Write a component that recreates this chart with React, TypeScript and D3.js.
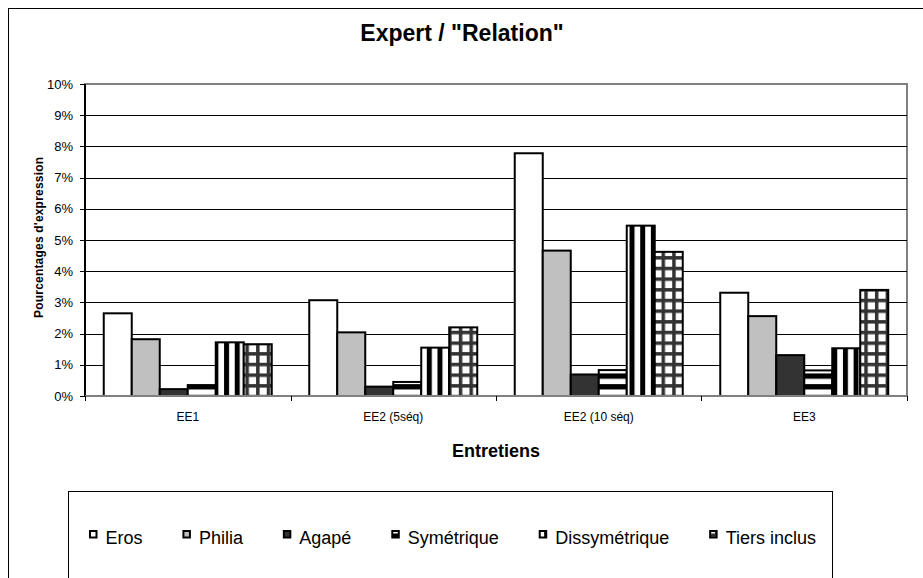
import React, { useMemo } from "react";
import * as d3 from "d3";

const categories = ["EE1", "EE2 (5séq)", "EE2 (10 séq)", "EE3"];
const seriesNames = ["Eros", "Philia", "Agapé", "Symétrique", "Dissymétrique", "Tiers inclus"];
const erosValues = [2.65, 3.07, 7.78, 3.31];
const philiaValues = [1.82, 2.04, 4.66, 2.56];
const agapeValues = [0.22, 0.3, 0.69, 1.31];
const symetriqueValues = [0.35, 0.45, 0.83, 0.82];
const dissymetriqueValues = [1.72, 1.55, 5.46, 1.53];
const tiersValues = [1.66, 2.2, 4.62, 3.4];
const yTicks = [0, 1, 2, 3, 4, 5, 6, 7, 8, 9, 10];

const seriesValues = [erosValues, philiaValues, agapeValues, symetriqueValues, dissymetriqueValues, tiersValues];
const fills = ["#ffffff", "#c0c0c0", "#333333", "url(#pHoriz)", "url(#pVert)", "url(#pGrid)"];

const FONT = "'Liberation Sans', Arial, sans-serif";

export default function App() {
  const W = 923, H = 578;
  const left = 85, right = 907, top = 84, bottom = 396;

  const x0 = d3.scaleBand<string>().domain(categories).range([left, right]).paddingInner(0.1825).paddingOuter(0.09125);
  const x1 = d3.scaleBand<string>().domain(seriesNames).range([0, x0.bandwidth()]).padding(0);
  const y = d3.scaleLinear().domain([0, 10]).range([bottom, top]);

  const legendItems = useMemo(() => {
    const c = document.createElement("canvas").getContext("2d");
    const fs = 18;
    let widths = seriesNames.map((n) => n.length * 9);
    if (c) {
      c.font = `${fs}px 'Liberation Sans', Arial`;
      widths = seriesNames.map((n) => c.measureText(n).width);
    }
    const sqToText = 16.5;
    const startX = 89, endX = 816;
    const total = widths.reduce((a, b) => a + b + sqToText, 0);
    const gap = (endX - startX - total) / (seriesNames.length - 1);
    let cx = startX;
    return seriesNames.map((n, i) => {
      const item = { name: n, x: cx, tx: cx + sqToText, fill: fills[i] };
      cx += sqToText + widths[i] + gap;
      return item;
    });
  }, []);

  return (
    <svg width={W} height={H} style={{ position: "absolute", left: 0, top: 0, background: "#fff" }} fontFamily={FONT}>
      <defs>
        <pattern id="pHoriz" patternUnits="userSpaceOnUse" width="10.67" height="10.67">
          <rect width="10.67" height="10.67" fill="#fff" />
          <rect width="10.67" height="5.33" fill="#000" />
        </pattern>
        <pattern id="pVert" patternUnits="userSpaceOnUse" width="10.67" height="10.67">
          <rect width="10.67" height="10.67" fill="#fff" />
          <rect width="5" height="10.67" fill="#000" />
        </pattern>
        <pattern id="pGrid" patternUnits="userSpaceOnUse" width="10.67" height="10.67">
          <rect width="10.67" height="10.67" fill="#fff" />
          <rect width="3.5" height="10.67" fill="#333" />
          <rect width="10.67" height="3.5" fill="#333" />
        </pattern>
        <clipPath id="yTitleClip">
          <rect x="0" y="156" width="80" height="260" />
        </clipPath>
      </defs>

      {/* outer frame */}
      <rect x={8.5} y={8.5} width={W} height={H} fill="none" stroke="#000" strokeWidth={1} />

      {/* title */}
      <text x={462} y={41} textAnchor="middle" fontSize={23} fontWeight="bold" fill="#000">
        Expert / "Relation"
      </text>

      {/* plot area frame */}
      <rect x={left} y={top} width={right - left} height={bottom - top} fill="#fff" stroke="#808080" strokeWidth={2} />

      {/* gridlines */}
      {yTicks.slice(1, -1).map((t) => (
        <line key={t} x1={left} x2={right} y1={Math.round(y(t)) + 0.5} y2={Math.round(y(t)) + 0.5} stroke="#000" strokeWidth={1} />
      ))}

      {/* y ticks and labels */}
      {yTicks.map((t) => (
        <g key={t}>
          <line x1={80} x2={left} y1={Math.round(y(t)) + 0.5} y2={Math.round(y(t)) + 0.5} stroke="#000" />
          <text x={73} y={y(t) + 4.5} textAnchor="end" fontSize={13} fill="#000">
            {t}%
          </text>
        </g>
      ))}

      {/* bars */}
      {categories.map((cat, ci) => (
        <g key={cat}>
          {seriesNames.map((s, si) => {
            const v = seriesValues[si][ci];
            const bx = (x0(cat) as number) + (x1(s) as number);
            return (
              <rect
                key={s}
                x={bx}
                y={y(v)}
                width={x1.bandwidth()}
                height={bottom - y(v)}
                fill={fills[si]}
                stroke="#000"
                strokeWidth={2}
              />
            );
          })}
        </g>
      ))}

      {/* axes lines */}
      <line x1={left} x2={left} y1={top} y2={bottom} stroke="#000" strokeWidth={2} />
      <line x1={left} x2={right} y1={bottom} y2={bottom} stroke="#808080" strokeWidth={2} />
      {[...categories.map((c) => x0(c) as number - x0.step() * 0.09125), right].map((tx, i) => (
        <line key={i} x1={Math.round(tx) + 0.5} x2={Math.round(tx) + 0.5} y1={bottom} y2={bottom + 5} stroke="#000" />
      ))}

      {/* x labels */}
      {categories.map((c) => (
        <text key={c} x={(x0(c) as number) + x0.bandwidth() / 2} y={421} textAnchor="middle" fontSize={12} fill="#000">
          {c}
        </text>
      ))}
      <text x={(left + right) / 2} y={457} textAnchor="middle" fontSize={18} fontWeight="bold" fill="#000">
        Entretiens
      </text>

      {/* y title */}
      <g clipPath="url(#yTitleClip)">
        <text transform="translate(43,318) rotate(-90)" textAnchor="start" fontSize={12} fontWeight="bold" letterSpacing={0.2} fill="#000">
          Pourcentages d'expressions
        </text>
      </g>

      {/* legend */}
      <rect x={68.5} y={491.5} width={832 - 68} height={200} fill="#fff" stroke="#000" strokeWidth={1} />
      {legendItems.map((it) => (
        <g key={it.name}>
          <rect x={it.x + 1} y={531} width={6.5} height={6.5} fill={it.fill} stroke="#000" strokeWidth={2} />
          <text x={it.tx} y={544} fontSize={18} fill="#000">
            {it.name}
          </text>
        </g>
      ))}
    </svg>
  );
}
